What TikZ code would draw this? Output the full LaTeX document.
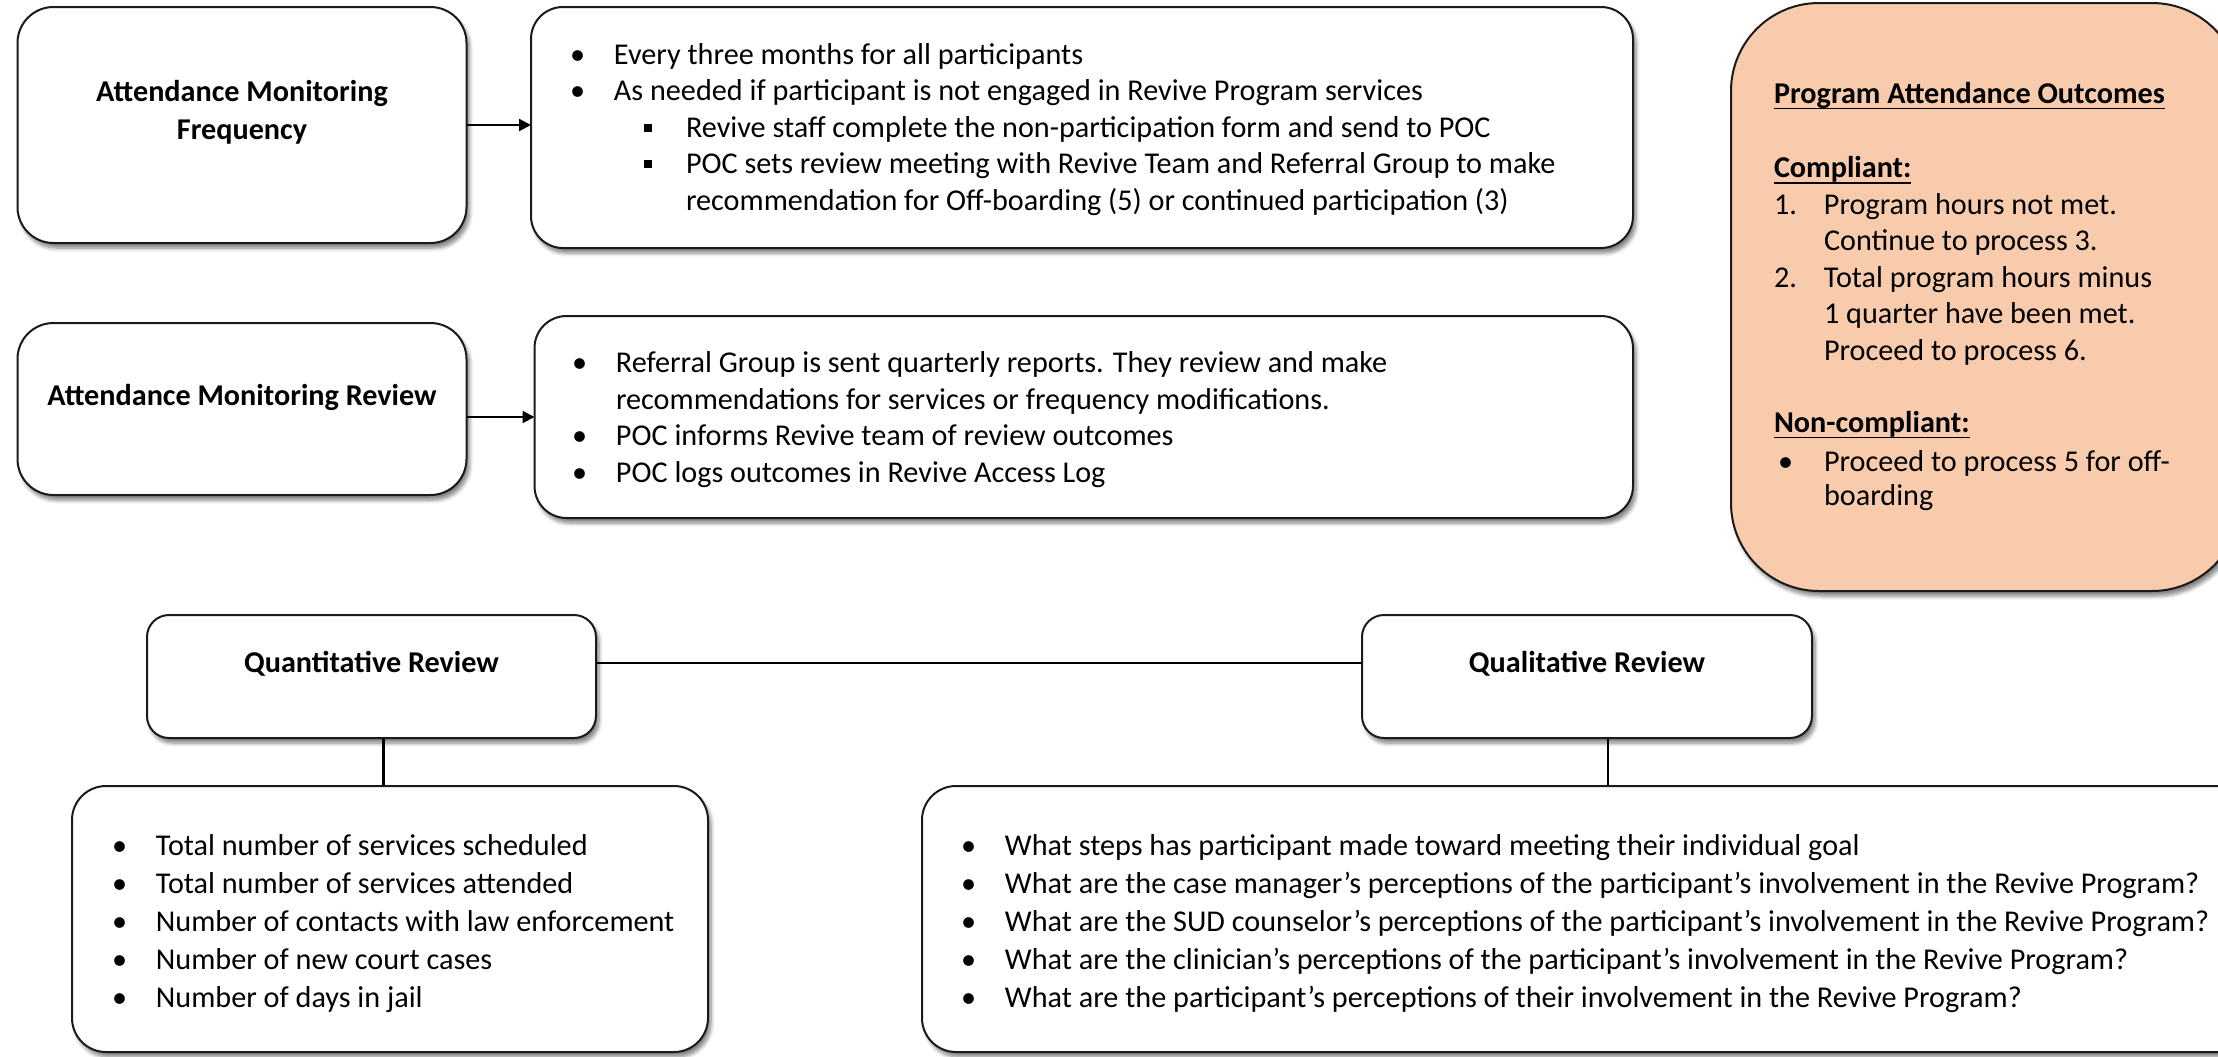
\documentclass[tikz,border=0pt]{standalone}
\usepackage{fontspec}
\setmainfont{Carlito}
\usetikzlibrary{arrows.meta,shadows.blur}

\definecolor{outcfill}{HTML}{F8CBAD}
\definecolor{edgecol}{HTML}{1A1A1A}

\newcommand\bodysize{\fontsize{15.1pt}{18.25pt}\selectfont}
\newcommand\itemdot{\makebox[22pt][l]{•}}
\newcommand\subitemsq{\hspace*{37pt}\makebox[21pt][l]{\rule[2.6pt]{4pt}{4pt}}}
\newcommand\ulhead[1]{\setbox0=\hbox{#1}\rlap{\rule[-3pt]{\wd0}{0.75pt}}\box0}

\begin{document}
\begin{tikzpicture}[x=0.5pt,y=-0.5pt,
  font=\bodysize,
  panel/.style={draw=edgecol, line width=1pt, rounded corners=#1, fill=white,
    inner sep=0pt, outer sep=0pt,
    blur shadow={shadow xshift=1.5pt, shadow yshift=-2.5pt,
      shadow blur steps=6, shadow opacity=50}},
  panel/.default=17pt,
  % multi-line texts are placed by the baseline of their last line
  txt/.style={inner sep=0pt, outer sep=0pt, align=left, anchor=base west},
  head/.style={inner sep=0pt, outer sep=0pt, align=center, anchor=base,
    font=\bodysize\bfseries},
  conn/.style={draw=black, line width=1.1pt},
  tip/.style={-{Triangle[length=6pt,width=6pt]}}
]
\useasboundingbox (0,0) rectangle (2218,1056);

% ---- boxes ----
\node[panel=18pt, minimum width=224.5pt, minimum height=118pt] (amf) at (242,125) {};
\node[panel=16pt, minimum width=551pt, minimum height=120.5pt] (freq) at (1082,127.5) {};
\node[panel=18pt, minimum width=224.5pt, minimum height=86pt] (amr) at (242,409) {};
\node[panel=16pt, minimum width=549.25pt, minimum height=101pt] (rev) at (1083.75,417) {};
\node[panel=44pt, fill=outcfill, minimum width=254.5pt, minimum height=294pt] (outc) at (1985.5,297) {};
\node[panel=11pt, minimum width=224.5pt, minimum height=61.5pt] (quant) at (371.5,676.5) {};
\node[panel=11pt, minimum width=225pt, minimum height=61.5pt] (qual) at (1587,676.5) {};
\node[panel=17pt, minimum width=318pt, minimum height=133pt] (bleft) at (390,919) {};
\node[panel=17pt, minimum width=669pt, minimum height=133pt] (bright) at (1591,919) {};

% ---- connectors ----
\draw[conn, tip] (amf.east) -- (amf.east -| freq.west);
\draw[conn, tip] (rev.west -| amr.east) -- (rev.west);
\draw[conn, line width=1.4pt] ([yshift=6.75pt]quant.east) -- ([yshift=6.75pt]qual.west);
\coordinate (qdrop) at ([xshift=6pt]quant.south);
\coordinate (ldrop) at ([xshift=10.5pt]qual.south);
\draw[conn] (qdrop) -- (qdrop |- bleft.north);
\draw[conn] (ldrop) -- (ldrop |- bright.north);

% ---- headings ----
\node[head, font=\fontsize{15.1pt}{19pt}\selectfont\bfseries] (amfhead) at (242,139) {Attendance Monitoring\\Frequency};
\node[head] (amrhead) at (242,405) {Attendance Monitoring Review};
\node[head] (quanthead) at (371.5,672) {Quantitative Review};
\node[head] (qualhead) at (1587,672) {Qualitative Review};

% ---- frequency details ----
\node[txt] (freqtxt) at (570,210) {\itemdot Every three months for all participants\\
\itemdot As needed if participant is not engaged in Revive Program services\\
\subitemsq Revive staff complete the non-participation form and send to POC\\
\subitemsq POC sets review meeting with Revive Team and Referral Group to make\\
\hspace*{58pt}recommendation for Off-boarding (5) or continued participation (3)};

% ---- review details ----
\node[txt] (revtxt) at (572,482) {\itemdot Referral Group is sent quarterly reports. They review and make\\
\hspace*{22pt}recommendations for services or frequency modifications.\\
\itemdot POC informs Revive team of review outcomes\\
\itemdot POC logs outcomes in Revive Access Log};

% ---- outcomes panel ----
\node[txt, font=\bodysize\bfseries] (outctitle) at (1774,103) {\ulhead{Program Attendance Outcomes}};
\node[txt] (compl) at (1774,360) {\textbf{\ulhead{Compliant:}}\\
\makebox[25pt][l]{1.}Program hours not met.\\
\hspace*{25pt}Continue to process 3.\\
\makebox[25pt][l]{2.}Total program hours minus\\
\hspace*{25pt}1 quarter have been met.\\
\hspace*{25pt}Proceed to process 6.};
\node[txt] (noncompl) at (1774,505) {\textbf{\ulhead{Non-compliant:}}\\[1.5pt]
\makebox[25pt][l]{\hspace{2pt}•}Proceed to process 5 for off-\\[-1.5pt]
\hspace*{25pt}boarding};

% ---- quantitative list ----
\node[txt, font=\fontsize{15.1pt}{18.9pt}\selectfont] (quanttxt) at (112,1007) {\itemdot Total number of services scheduled\\
\itemdot Total number of services attended\\
\itemdot Number of contacts with law enforcement\\
\itemdot Number of new court cases\\
\itemdot Number of days in jail};

% ---- qualitative list ----
\node[txt, font=\fontsize{15.1pt}{18.9pt}\selectfont] (qualtxt) at (961,1007) {\itemdot What steps has participant made toward meeting their individual goal\\
\itemdot What are the case manager’s perceptions of the participant’s involvement in the Revive Program?\\
\itemdot What are the SUD counselor’s perceptions of the participant’s involvement in the Revive Program?\\
\itemdot What are the clinician’s perceptions of the participant’s involvement in the Revive Program?\\
\itemdot What are the participant’s perceptions of their involvement in the Revive Program?};
\end{tikzpicture}
\end{document}
